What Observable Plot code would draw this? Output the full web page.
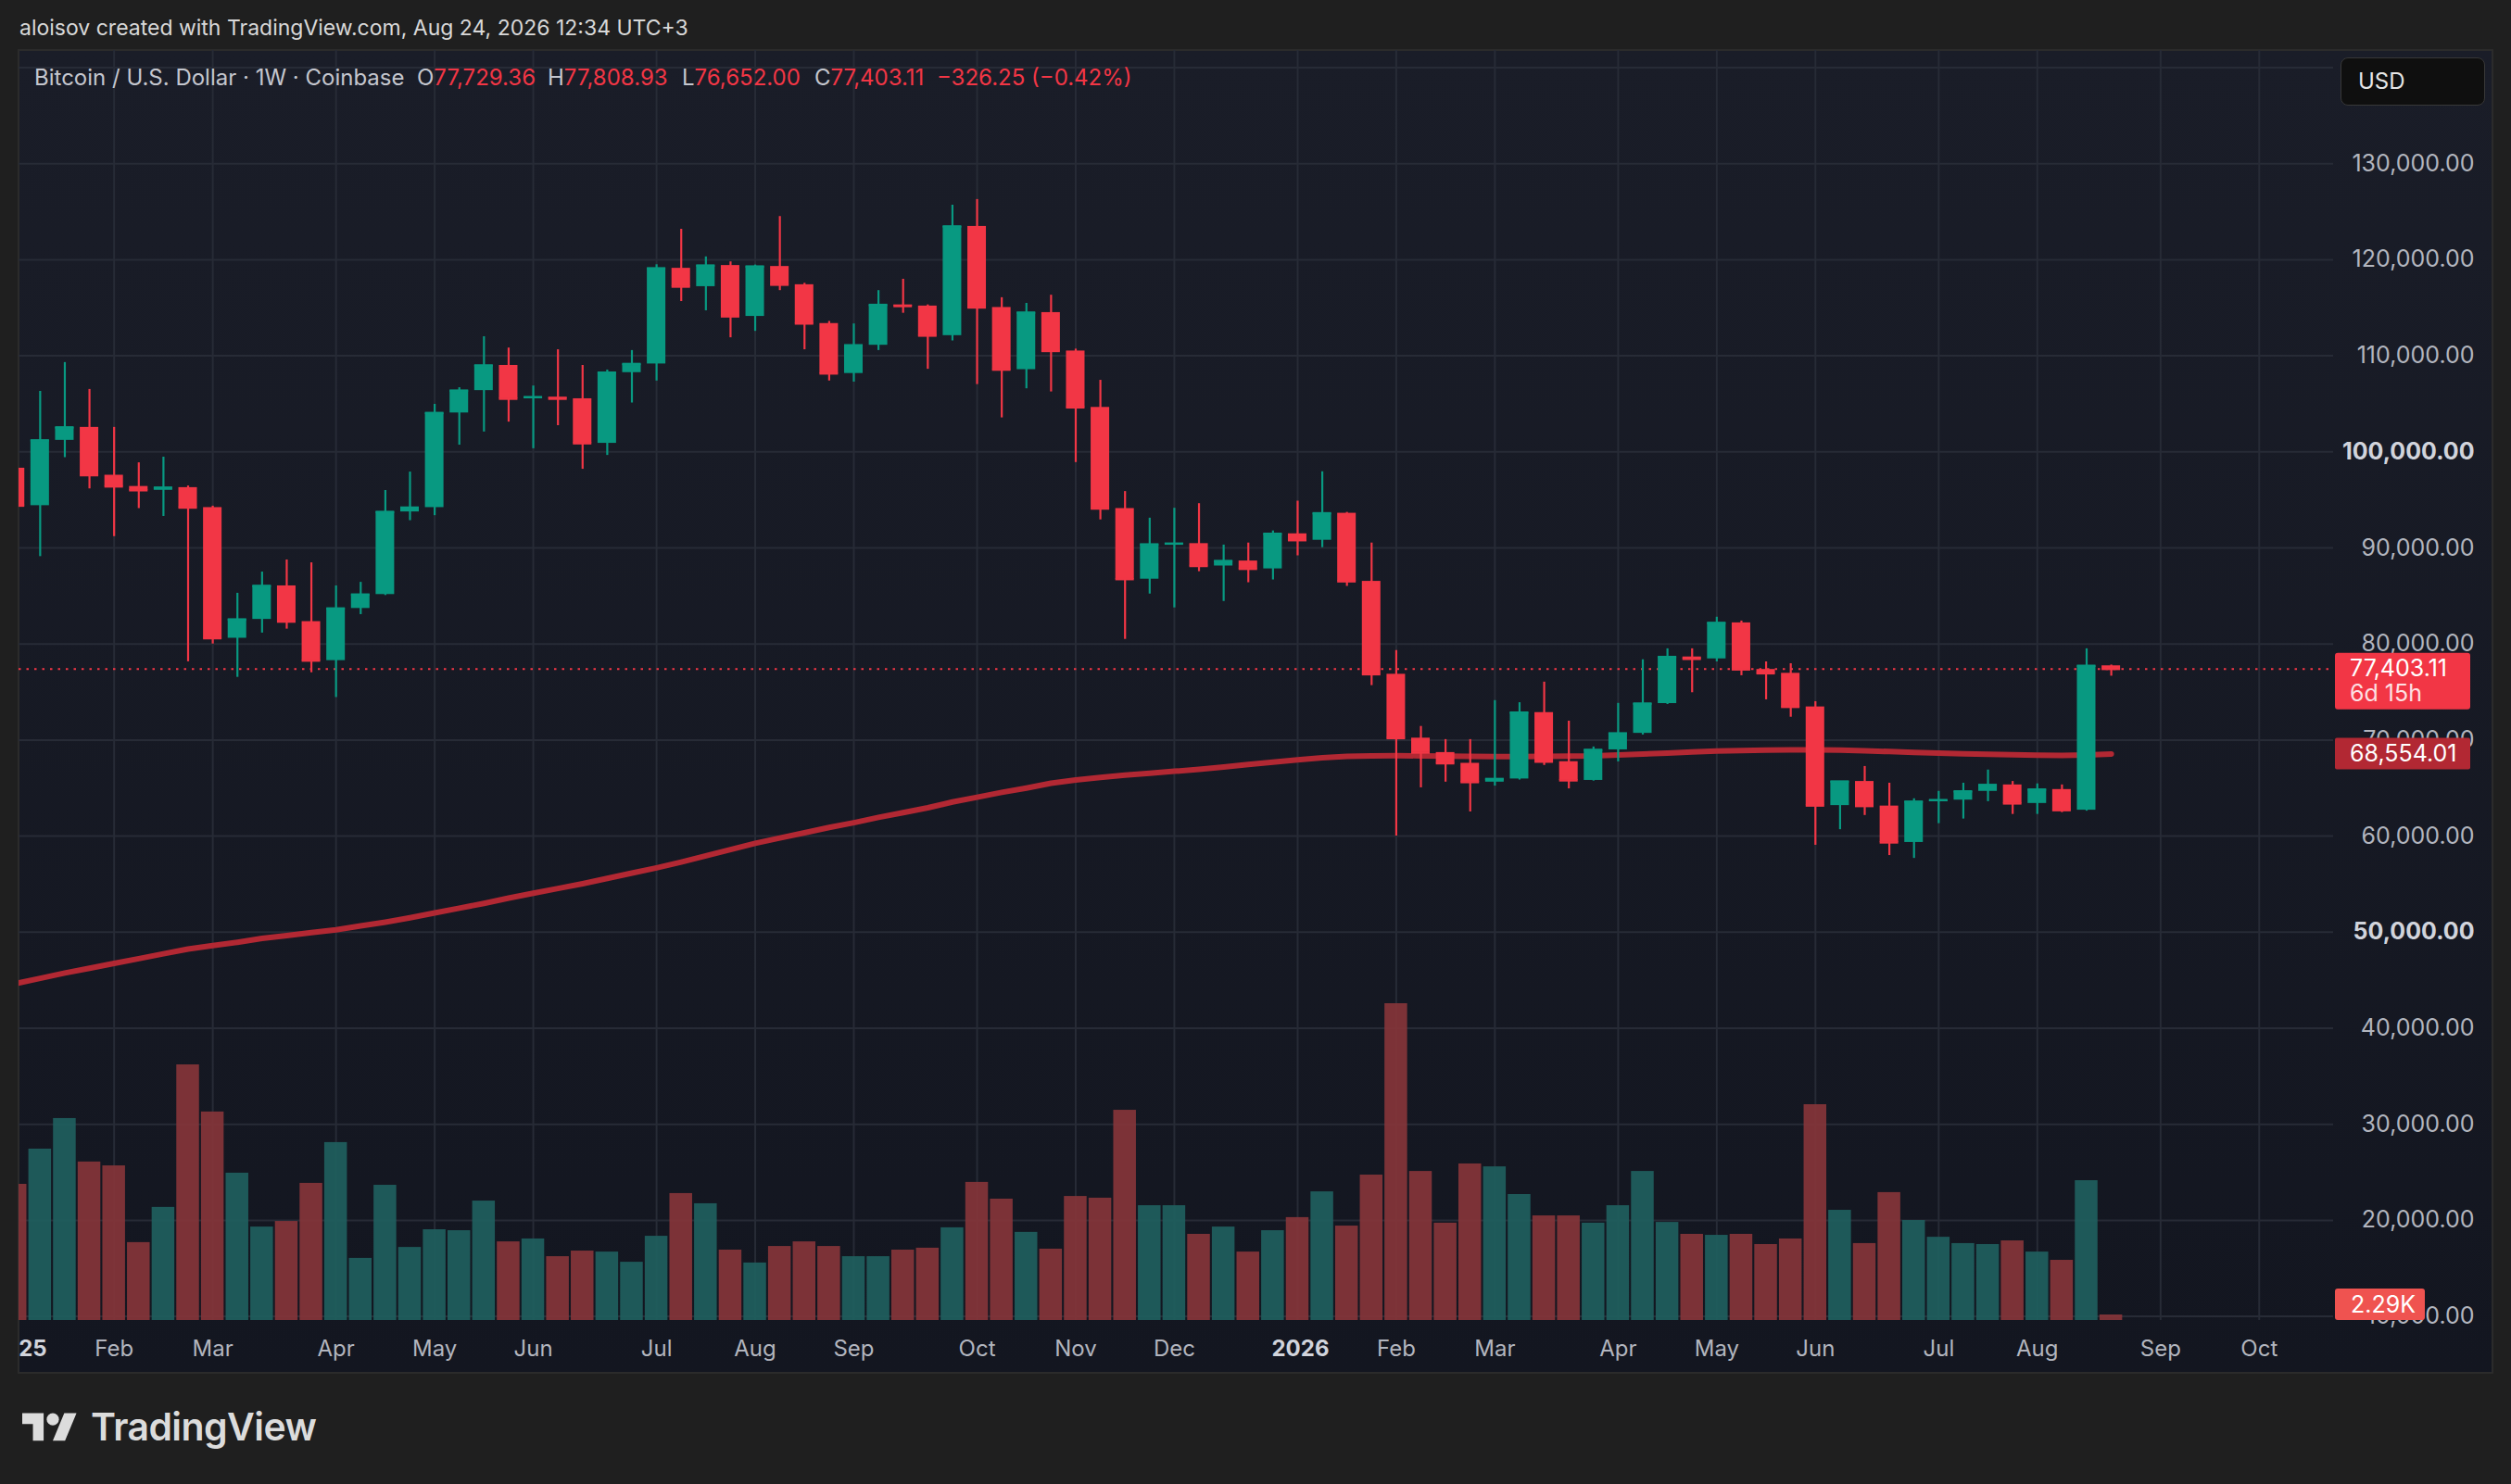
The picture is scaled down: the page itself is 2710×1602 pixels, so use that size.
<!DOCTYPE html>
<html><head><meta charset="utf-8">
<script src="https://cdn.jsdelivr.net/npm/d3@7"></script>
<script src="https://cdn.jsdelivr.net/npm/@observablehq/plot@0.6"></script>
<style>
html,body{margin:0;padding:0;background:#1f1f1f;}
body{width:2710px;height:1602px;position:relative;overflow:hidden;font-family:Inter,"Noto Sans",sans-serif;}
#header{position:absolute;left:21px;top:19px;font-size:23px;line-height:23px;color:#d8d8d8;white-space:nowrap;}
#frame{position:absolute;left:19px;top:53px;width:2672px;height:1430px;box-sizing:border-box;border:2px solid #2b2b2b;background:linear-gradient(#1a1d28,#131620);}
.layer{position:absolute;left:20px;top:54px;}
.lg{position:absolute;top:72px;font-size:24px;line-height:24px;white-space:nowrap;color:#c4c6ce;}
.lg b{font-weight:400;color:#f23645;}
#usd{position:absolute;left:2526px;top:62px;width:156px;height:52px;box-sizing:border-box;border:1px solid #383838;border-radius:8px;background:#0f0f0f;color:#e6e6e6;font-size:24px;line-height:50px;padding-left:18px;}
#logo{position:absolute;left:24px;top:1519px;width:59.4px;height:46.2px;}
#tv{position:absolute;left:98px;top:1520px;font-size:41px;line-height:41px;font-weight:600;color:#dcdcdc;letter-spacing:-0.6px;}
</style></head>
<body>
<div id="header">aloisov created with TradingView.com, Aug 24, 2026 12:34 UTC+3</div>
<div id="frame"></div>
<div id="pricePlot" class="layer"></div>
<div id="volPlot" class="layer"></div>
<div id="legend"></div>
<div id="usd">USD</div>
<svg id="logo" viewBox="0 0 36 28"><path fill="#dcdcdc" d="M14 22H7V11H0V4h14v18zM28 22h-8l7.5-18h8L28 22z"/><circle fill="#dcdcdc" cx="20" cy="8" r="4"/></svg>
<div id="tv">TradingView</div>
<script>
// ---- data (weekly candles, BTC/USD, Coinbase; week 0 = 6 Jan 2025) ----
const open  = [98300,94400,101200,102550,97570,96400,96000,96280,94200,80600,82560,86050,82330,78270,83700,85150,93750,94200,104050,106380,109000,105530,105700,105530,100890,108250,109150,119110,117200,119400,114100,119300,117400,113360,108160,111100,115300,115180,112100,123470,115030,108560,114500,110500,104630,94100,86750,90370,90450,88120,88640,87820,91470,90800,93610,86520,76850,70200,68700,67580,65620,65950,72860,67750,65800,68980,70700,73800,78650,78450,82200,77350,76950,73450,63180,65690,63130,59340,63590,63750,64660,65330,63400,64850,62700,77729.36];
const high  = [102700,106300,109300,106500,102550,98860,99450,96450,94350,85280,87490,88750,88450,86050,86420,95980,97900,104950,106680,111990,110810,106860,110630,109000,108520,110550,119480,123170,120300,119780,119450,124500,117550,113580,113320,116790,117970,115300,125680,126270,116050,115460,116310,110700,107450,95870,93100,94130,94610,90300,90510,91770,94870,97930,93700,90510,79320,71420,70050,70050,74110,73890,76030,71970,69280,73820,78360,79500,79500,82790,82390,78140,77950,74000,65700,67250,65510,63890,64660,65510,66880,65690,65440,65330,79500,77808.93];
const low   = [91200,89100,99400,96150,91180,94100,93280,78150,80000,76530,81140,81550,77010,74430,83060,85050,92840,93360,100700,102070,103100,100330,102730,98190,99630,105090,107380,115650,114690,111880,112550,116790,110630,107380,107270,110550,114430,108600,111550,107010,103540,106570,106240,98890,92920,80480,85200,83760,87530,84430,86380,86670,89180,90030,86000,75670,60010,65030,65620,62520,65210,65840,67360,64920,65730,67730,70530,73700,74930,78140,76700,74190,72380,59050,60670,62150,57980,57680,61300,61780,63590,62260,62260,62450,62600,76652.00];
const close = [94400,101200,102550,97570,96400,96000,96280,94200,80600,82560,86050,82330,78270,83700,85150,93750,94200,104050,106380,109000,105530,105700,105530,100890,108250,109150,119110,117200,119400,114100,119300,117400,113360,108160,111100,115300,115180,112100,123470,115030,108560,114500,110500,104630,94100,86750,90370,90450,88120,88640,87820,91470,90800,93610,86520,76850,70200,68700,67580,65620,65950,72860,67750,65800,68980,70700,73800,78650,78450,82200,77350,76950,73450,63180,65690,63130,59340,63590,63750,64660,65330,63400,64850,62700,77729.36,77403.11];
const volume = [56100,70600,83200,65300,63700,32100,46600,105300,85900,60700,38500,40800,56500,73300,25600,55700,30100,37400,37000,49200,32400,33600,26300,28600,28200,24000,34700,52300,48100,29000,23700,30500,32400,30500,26300,26300,29000,29800,38200,56900,50000,36300,29400,51100,50400,86600,47300,47300,35500,38500,28200,37000,42400,53000,38900,59900,130500,61400,40100,64500,63300,51900,43100,43100,40100,47300,61400,40400,35500,35100,35500,31300,33600,88900,45400,31700,52700,41200,34300,31700,31300,32800,28200,24800,57600,2290];
const ma200 = [44650,45200,45750,46250,46750,47250,47750,48250,48600,48950,49350,49650,49950,50250,50650,51050,51500,52000,52500,53000,53550,54050,54550,55050,55600,56150,56700,57300,57950,58600,59250,59800,60350,60900,61400,61950,62450,62950,63550,64050,64550,65000,65500,65850,66100,66350,66550,66750,66950,67200,67450,67700,67950,68150,68300,68350,68370,68360,68330,68300,68280,68280,68300,68320,68350,68450,68550,68650,68750,68850,68900,68950,68980,68980,68950,68880,68800,68720,68640,68580,68530,68480,68420,68400,68450,68554.01];
const monthTickWeeks  = [0,4,8,13,17,21,26,30,34,39,43,47,52,56,60,65,69,73,78,82,87,91];
const monthTickLabels = ["2025","Feb","Mar","Apr","May","Jun","Jul","Aug","Sep","Oct","Nov","Dec","2026","Feb","Mar","Apr","May","Jun","Jul","Aug","Sep","Oct"];
const yearTickWeeks = [0,52];
const priceTicks = [10000,20000,30000,40000,60000,70000,80000,90000,110000,120000,130000];
const roundPriceTicks = [50000,100000];
const gridPrices = [10000,20000,30000,40000,50000,60000,70000,80000,90000,100000,110000,120000,130000,140000];
const timeLeft = "6d 15h";

// ---- styling ----
const GREEN="#089981", RED="#f23645", MA_COLOR="#b22833";
const VOL_GREEN="#1f5f5e", VOL_RED="#843539", GRID="#272b36";
const FONT="Inter, 'Noto Sans', sans-serif";
const W=2670, H=1428, MR=172, MB=57;
const xDomain=[0.1413, 94.015];
const fmt=d3.format(",.2f");

const candles = close.map((c,i)=>({i, open:open[i], high:high[i], low:low[i], close:c, vol:volume[i], ma:ma200[i], up:c>=open[i]}));
const last = candles[candles.length-1];
const prev = candles[candles.length-2];

// legend
const chg = last.close - prev.close, pct = chg/prev.close*100;
const minus = v => (v<0?"\u2212":"") + fmt(Math.abs(v));
const legendParts = [
  {x:37, html:"Bitcoin / U.S. Dollar \u00b7 1W \u00b7 Coinbase"},
  {x:450, html:`O<b>${fmt(last.open)}</b>`},
  {x:591, html:`H<b>${fmt(last.high)}</b>`},
  {x:736, html:`L<b>${fmt(last.low)}</b>`},
  {x:879, html:`C<b>${fmt(last.close)}</b>`},
  {x:1011, html:`<b>${minus(chg)} (${(pct<0?"\u2212":"")+Math.abs(pct).toFixed(2)}%)</b>`}
];
const lg=document.getElementById("legend");
legendParts.forEach(p=>{const s=document.createElement("div");s.className="lg";s.style.left=p.x+"px";s.innerHTML=p.html;lg.appendChild(s);});

const bodyHalf=0.376, volHalf=0.46;

const priceBadges = (index, scales, values, dims) => {
  const g=d3.create("svg:g").attr("font-family",FONT).attr("font-size",25).attr("text-anchor","start");
  const x0=dims.width-dims.marginRight+2;
  const yP=scales.y(last.close);
  g.append("rect").attr("x",x0).attr("y",yP-17).attr("width",146).attr("height",61).attr("rx",3).attr("fill",RED);
  g.append("text").attr("x",x0+16).attr("y",yP+8.5).attr("fill","#ffffff").text(fmt(last.close));
  g.append("text").attr("x",x0+16).attr("y",yP+35.5).attr("fill","#fde0e3").text(timeLeft);
  const yM=scales.y(last.ma);
  g.append("rect").attr("x",x0).attr("y",yM-17).attr("width",146).attr("height",34).attr("rx",2).attr("fill",MA_COLOR);
  g.append("text").attr("x",x0+16).attr("y",yM+8.5).attr("fill","#ffffff").text(fmt(last.ma));
  return g.node();
};

const pricePlot = Plot.plot({
  width:W, height:H, marginLeft:0, marginRight:MR, marginTop:0, marginBottom:MB,
  style:{background:"transparent", fontFamily:FONT},
  x:{type:"linear", domain:xDomain, axis:null},
  y:{type:"linear", domain:[9576,141784], axis:null},
  color:{type:"identity"},
  marks:[
    Plot.gridY(gridPrices,{stroke:GRID, strokeOpacity:1, strokeWidth:2}),
    Plot.gridX(monthTickWeeks,{stroke:GRID, strokeOpacity:1, strokeWidth:2}),
    Plot.line(candles,{x:"i", y:"ma", stroke:MA_COLOR, strokeWidth:6, curve:"linear"}),
    Plot.ruleY([last.close],{stroke:RED, strokeWidth:2, strokeDasharray:"2.5,6"}),
    Plot.ruleX(candles,{x:"i", y1:"low", y2:"high", stroke:d=>d.up?GREEN:RED, strokeWidth:2.2}),
    Plot.rect(candles,{x1:d=>d.i-bodyHalf, x2:d=>d.i+bodyHalf, y1:"open", y2:"close", fill:d=>d.up?GREEN:RED}),
    Plot.ruleY(candles,{x1:d=>d.i-bodyHalf, x2:d=>d.i+bodyHalf, y:"close", stroke:d=>d.up?GREEN:RED, strokeWidth:2.5}),
    Plot.text(priceTicks,{y:d=>d, frameAnchor:"right", dx:152, textAnchor:"end", text:d=>fmt(d), fill:"#b2b5be", fontSize:25}),
    Plot.text(roundPriceTicks,{y:d=>d, frameAnchor:"right", dx:152, textAnchor:"end", text:d=>fmt(d), fill:"#d1d4dc", fontSize:25, fontWeight:700}),
    Plot.text(monthTickWeeks.filter(w=>!yearTickWeeks.includes(w)),{x:d=>d, frameAnchor:"bottom", dy:38, text:d=>monthTickLabels[monthTickWeeks.indexOf(d)], fill:"#b2b5be", fontSize:24}),
    Plot.text(yearTickWeeks,{x:d=>d, frameAnchor:"bottom", dy:38, dx:3, text:d=>monthTickLabels[monthTickWeeks.indexOf(d)], fill:"#d1d4dc", fontSize:24, fontWeight:700}),
    priceBadges
  ]
});
document.getElementById("pricePlot").appendChild(pricePlot);

const volBadge = (index, scales, values, dims) => {
  const g=d3.create("svg:g").attr("font-family",FONT).attr("font-size",25).attr("text-anchor","start");
  const x0=dims.width-dims.marginRight+2;
  const bottom=dims.height-dims.marginBottom;
  const yc=Math.min(scales.y(last.vol), bottom-17);
  g.append("rect").attr("x",x0).attr("y",yc-17).attr("width",97).attr("height",34).attr("rx",3).attr("fill","#ef5350");
  g.append("text").attr("x",x0+17).attr("y",yc+8.5).attr("fill","#ffffff").text((last.vol/1000).toFixed(2)+"K");
  return g.node();
};

const volPlot = Plot.plot({
  width:W, height:H, marginLeft:0, marginRight:MR, marginTop:0, marginBottom:MB,
  style:{background:"transparent", fontFamily:FONT},
  x:{type:"linear", domain:xDomain, axis:null},
  y:{type:"linear", domain:[0,130500], range:[1371,1029], axis:null},
  color:{type:"identity"},
  marks:[
    Plot.rect(candles,{x1:d=>d.i-volHalf, x2:d=>d.i+volHalf, y1:0, y2:"vol", fill:d=>d.up?VOL_GREEN:VOL_RED, fillOpacity:0.93}),
    volBadge
  ]
});
document.getElementById("volPlot").appendChild(volPlot);
</script>
</body></html>
